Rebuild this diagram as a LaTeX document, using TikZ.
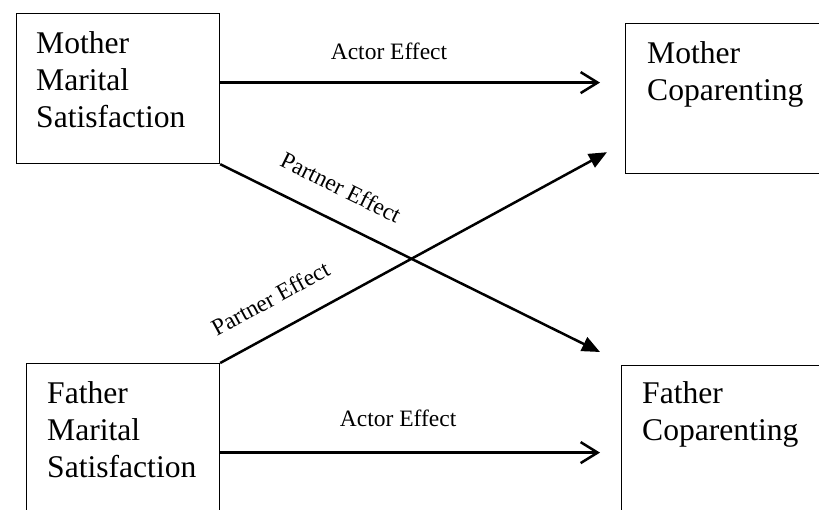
\documentclass[tikz,border=0pt]{standalone}
\usepackage{fontspec}
\setmainfont{Liberation Serif}
\usetikzlibrary{arrows.meta,positioning}

\begin{document}
\begin{tikzpicture}[
    x=1pt, y=-1pt,
    effbox/.style={rectangle, draw, line width=1.2pt, inner sep=0pt, anchor=north west},
    boxtext/.style={inner sep=0pt, anchor=base west, text width=190pt, align=left, font=\fontsize{31.6}{37}\selectfont},
    efftext/.style={inner sep=0pt, font=\fontsize{23.5}{28}\selectfont},
    actor/.style={line width=2.5pt, -{Straight Barb[length=17pt,width=21pt]}},
    partner/.style={line width=2.5pt, -{Triangle[length=18pt,width=15pt]}}
]
\clip (0,0) rectangle (819,509);

% Mother boxes
\node[effbox, minimum width=203pt, minimum height=150pt] (mms) at (16,13) {};
\node[boxtext] (mmsText) at ([shift={(20,40)}]mms.north west) {Mother\\Marital\\Satisfaction};
\node[effbox, minimum width=230pt, minimum height=150pt] (mcp) at (625,23) {};
\node[boxtext] (mcpText) at ([shift={(22,40)}]mcp.north west) {Mother\\Coparenting};

% Father boxes
\node[effbox, minimum width=193pt, minimum height=178pt] (fms) at (26,363) {};
\node[boxtext] (fmsText) at ([shift={(21,40)}]fms.north west) {Father\\Marital\\Satisfaction};
\node[effbox, minimum width=230pt, minimum height=200pt] (fcp) at (621,365) {};
\node[boxtext] (fcpText) at ([shift={(21,38)}]fcp.north west) {Father\\Coparenting};

% Actor effects
\coordinate (mmsOut) at ([yshift=6pt]mms.east);
\draw[actor, shorten >=25pt] (mmsOut) -- node[efftext, pos=0.417, above=22pt] {Actor Effect} (mmsOut -| mcp.west);
\draw[actor, shorten >=21pt] (fms.east) -- node[efftext, pos=0.444, above=25pt] {Actor Effect} (fms.east -| fcp.west);

% Partner effects
\draw[partner] (mms.south east) -- node[efftext, pos=0.28, sloped, above=23pt] {Partner Effect} ([xshift=-21pt,yshift=13pt]fcp.north west);
\draw[partner] (fms.north east) -- node[efftext, pos=0.17, sloped, above=23pt] {Partner Effect} ([xshift=-18pt,yshift=22pt]mcp.south west);

\end{tikzpicture}
\end{document}
